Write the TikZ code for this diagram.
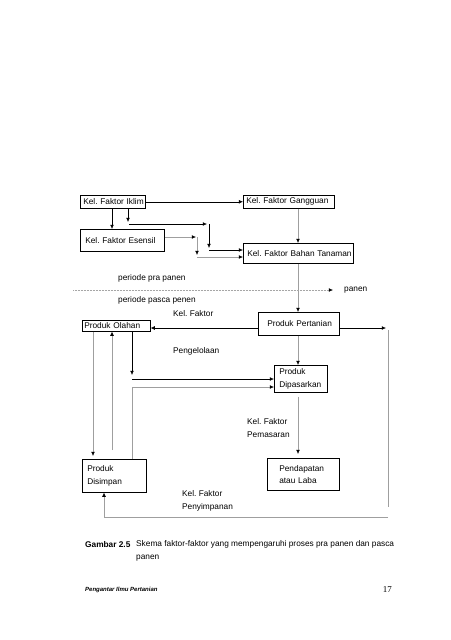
\documentclass[tikz,border=0pt]{standalone}
\usepackage{fontspec}
\setmainfont{Liberation Sans}
\newfontfamily\seriff{Liberation Serif}
\usetikzlibrary{arrows.meta}
\frenchspacing
\begin{document}
\begin{tikzpicture}[x=1pt,y=-1pt,
  font=\fontsize{8.3}{12.5}\selectfont,
  bx/.style={draw=black, line width=0.6pt, anchor=north west, align=left, inner ysep=0pt},
  lbl/.style={anchor=west, inner sep=0pt, align=left},
  tip/.style={-{Latex[length=4.2pt,width=3.8pt,color=black]}},
  blk/.style={draw=black, line width=0.6pt, tip},
  gry/.style={draw=gray!75, line width=0.6pt, tip},
  gryl/.style={draw=gray!75, line width=0.6pt},
  dots/.style={draw=gray!70, line width=0.6pt, dash pattern=on 0.5pt off 1pt, tip}
]
\useasboundingbox (0,0) rectangle (450,640);

% boxes
\node[bx, minimum width=65pt, minimum height=13pt, text width=59pt, inner xsep=3pt] (iklim) at (80,195) {\raisebox{-1.5pt}{\mbox{Kel. Faktor Iklim}}};
\node[bx, minimum width=91pt, minimum height=13pt, text width=85pt, inner xsep=3pt] (gang) at (243,195) {\raisebox{-1.5pt}{\mbox{Kel. Faktor Gangguan}}};
\node[bx, minimum width=84pt, minimum height=22pt, text width=74pt, inner xsep=5pt] (esen) at (80,229) {\mbox{Kel. Faktor Esensil}};
\node[bx, minimum width=110pt, minimum height=20pt, text width=102pt, inner xsep=4pt] (bahan) at (243,243) {\mbox{Kel. Faktor Bahan Tanaman}};
\node[bx, minimum width=68pt, minimum height=11pt, text width=64pt, inner xsep=2pt] (olahan) at (82,320) {\mbox{Produk Olahan}};
\node[bx, minimum width=81pt, minimum height=23pt, text width=63pt, inner xsep=9pt] (pert) at (258,312) {\mbox{Produk Pertanian}};
\node[bx, minimum width=53pt, minimum height=27pt, text width=43pt, inner xsep=5pt] (dipas) at (274,365) {Produk\\Dipasarkan};
\node[bx, minimum width=64pt, minimum height=33pt, text width=54pt, inner xsep=5pt] (disim) at (82,459) {Produk\\Disimpan};
\node[bx, minimum width=72pt, minimum height=32pt, text width=48pt, inner xsep=12pt] (pend) at (267,458) {Pendapatan\\\mbox{atau Laba}};

% labels
\node[lbl] (pra) at (118,278) {periode pra panen};
\node[lbl] (pasca) at (118,300) {periode pasca penen};
\node[lbl] (kf1) at (173,314) {Kel. Faktor};
\node[lbl] (peng) at (173,351) {Pengelolaan};
\node[lbl] (pemas) at (247,428) {Kel. Faktor\\Pemasaran};
\node[lbl] (penyim) at (182,501) {Kel. Faktor\\Penyimpanan};
\node[lbl] (panen) at (344,290) {panen};

% coordinates
\coordinate (xA) at (112,0);
\coordinate (xB) at (128,0);
\coordinate (x298) at (298,0);
\coordinate (x93) at (93,0);
\coordinate (x112) at (112,0);
\coordinate (x132) at (132,0);
\coordinate (yP) at (0,328);
\coordinate (yD) at (0,237);
\coordinate (kB1) at (128,222);
\coordinate (kB2) at (129,224);
\coordinate (kB3) at (207,224);
\coordinate (kC1) at (209,224);
\coordinate (kC2) at (209,248);
\coordinate (kC3) at (209,250);
\coordinate (kD1) at (196,237);
\coordinate (kD2) at (197,237);
\coordinate (kD3) at (197,255);
\coordinate (kD4) at (197,257);
\coordinate (dot1) at (73,290);
\coordinate (dot2) at (333,290);
\coordinate (kR1) at (386,328);
\coordinate (kR2) at (388,330);
\coordinate (kR3) at (388,507);
\coordinate (kR4) at (388,517);
\coordinate (kR5) at (104,517);
\coordinate (kU1) at (112,450);
\coordinate (kV1) at (132,375);
\coordinate (kV2) at (132,379);
\coordinate (kV3) at (132,387);

% connectors top
\draw[blk] (iklim.east) -- (gang.west);
\draw[blk] (iklim.south -| xA) -- (esen.north -| xA);
\draw[blk] (iklim.south -| xB) -- (kB1);
\draw[blk] (kB2) -- (kB3);
\draw[blk] (kC1) -- (kC2);
\draw[blk] (kC3) -- (kC3 -| bahan.west);
\draw[gry] (esen.east |- yD) -- (kD1);
\draw[gry] (kD2) -- (kD3);
\draw[gry] (kD4) -- (kD4 -| bahan.west);
\draw[gry] (gang.south -| x298) -- (bahan.north -| x298);
\draw[gry] (bahan.south -| x298) -- (pert.north -| x298);
\draw[dots] (dot1) -- (dot2);

% middle
\draw[blk] (pert.west |- yP) -- (olahan.east |- yP);
\draw[blk] (pert.east |- yP) -- (kR1);
\draw[gryl] (kR2) -- (kR3);
\draw[gry] (kR4) -- (kR5) -- (disim.south -| kR5);
\draw[gry] (pert.south -| x298) -- (dipas.north -| x298);
\draw[gry, shorten >=3pt] (olahan.south -| x93) -- (disim.north -| x93);
\draw[gry] (kU1) -- (olahan.south -| x112);
\draw[blk] (olahan.south -| x132) -- (kV1);
\draw[blk] (kV2) -- (kV2 -| dipas.west);
\draw[gry] (disim.north -| x132) -- (kV3) -- (kV3 -| dipas.west);
\draw[gry, shorten <=4pt, shorten >=4pt] (dipas.south -| x298) -- (pend.north -| x298);

% caption
\node[lbl, font=\fontsize{8.3}{12.5}\selectfont\bfseries] (gb) at (85,545) {Gambar 2.5};
\node[lbl] (cap) at (136,551) {Skema faktor-faktor yang mempengaruhi proses pra panen dan pasca\\panen};
\node[lbl, font=\fontsize{6}{7}\selectfont\bfseries\itshape] (ft) at (85,590) {Pengantar Ilmu Pertanian};
\node[anchor=east, inner sep=0pt, font=\seriff\fontsize{9}{10}\selectfont] (pg) at (392,590) {17};
\end{tikzpicture}
\end{document}
